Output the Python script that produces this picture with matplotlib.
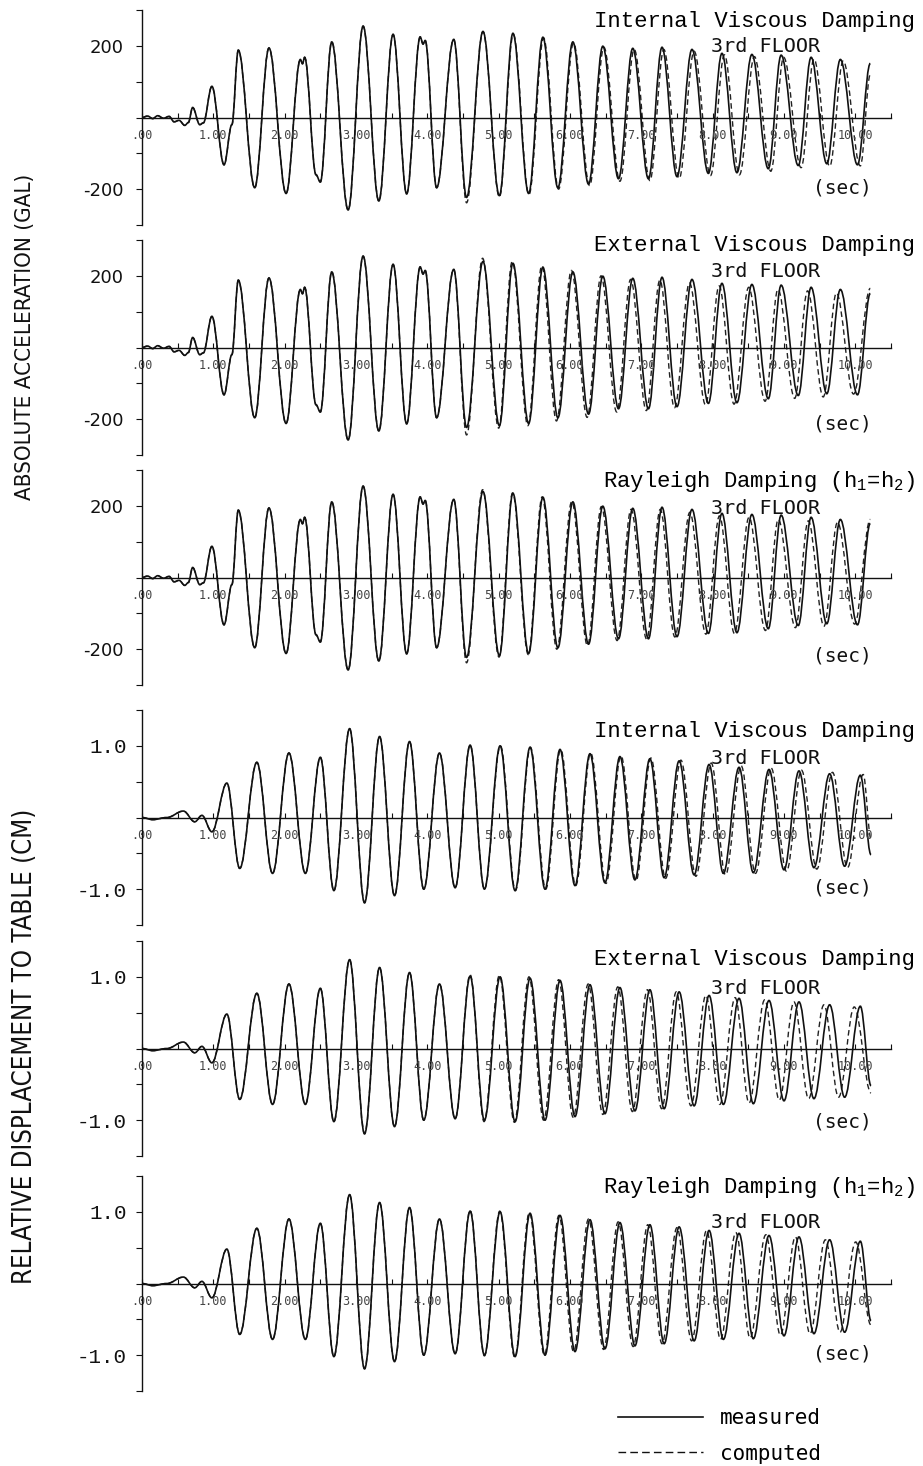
import matplotlib
matplotlib.use("Agg")
import matplotlib.pyplot as plt
from matplotlib.path import Path
from matplotlib.patches import PathPatch
from matplotlib.lines import Line2D
from matplotlib.ticker import MultipleLocator, FixedLocator, FixedFormatter

plt.rcParams['mathtext.fontset'] = 'custom'
plt.rcParams['mathtext.rm'] = 'Liberation Mono'
plt.rcParams['mathtext.it'] = 'Liberation Mono'

# ---------------- data (extrema) ----------------
# measured absolute acceleration (gal), 3rd floor
ACC_MEAS_T = [0.00, 0.08, 0.15, 0.22, 0.30, 0.38, 0.45, 0.52, 0.60, 0.65, 0.71, 0.81, 0.86,
              0.98, 1.15, 1.26, 1.35, 1.58, 1.78, 2.02, 2.22, 2.25, 2.28, 2.44, 2.50,
              2.66, 2.89, 3.10, 3.32, 3.52, 3.71, 3.90, 3.94, 3.97, 4.13, 4.37, 4.55,
              4.78, 5.01, 5.20, 5.42, 5.62, 5.83, 6.04, 6.26, 6.46, 6.68, 6.88, 7.10,
              7.29, 7.50, 7.71, 7.94, 8.13, 8.34, 8.55, 8.78, 8.96, 9.20, 9.38, 9.60,
              9.79, 10.03, 10.21]
ACC_MEAS_V = [0, 4, -3, 5, -2, 3, -12, -8, -22, -14, 28, -20, -15,
              87, -132, -20, 188, -196, 194, -212, 162, 150, 168, -160, -180,
              211, -258, 255, -233, 232, -213, 225, 205, 215, -196, 218, -223,
              240, -218, 235, -212, 224, -196, 211, -186, 199, -171, 193, -171,
              196, -165, 190, -156, 179, -154, 176, -143, 174, -134, 168, -129,
              162, -132, 151]

# computed acceleration (only the part after 4.5 s differs visibly)
ACC_IVD_T = [4.55, 4.78, 5.01, 5.205, 5.425, 5.63, 5.84, 6.05, 6.275, 6.475, 6.70, 6.90, 7.12, 7.315,
             7.53, 7.74, 7.97, 8.165, 8.375, 8.585, 8.815, 8.995, 9.24, 9.42, 9.64, 9.83, 10.07, 10.21]
ACC_IVD_V = [-238, 240, -222, 232, -215, 222, -200, 208, -190, 196, -178, 190, -176, 190,
             -170, 185, -162, 175, -160, 170, -150, 168, -140, 163, -136, 158, -135, 120]
ACC_EVD_T = [4.55, 4.775, 5.00, 5.19, 5.41, 5.605, 5.81, 6.02, 6.24, 6.435, 6.655, 6.85, 7.07, 7.26,
             7.465, 7.675, 7.90, 8.09, 8.30, 8.505, 8.735, 8.915, 9.15, 9.33, 9.55, 9.735, 9.975, 10.21]
ACC_EVD_V = [-244, 249, -225, 240, -218, 228, -205, 215, -195, 200, -180, 190, -176, 188,
             -168, 180, -160, 172, -158, 168, -150, 162, -142, 158, -138, 152, -130, 165]
ACC_RAY_T = [4.55, 4.775, 5.005, 5.195, 5.415, 5.61, 5.815, 6.025, 6.245, 6.44, 6.66, 6.855, 7.075, 7.265,
             7.47, 7.68, 7.905, 8.095, 8.305, 8.51, 8.74, 8.92, 9.16, 9.34, 9.56, 9.75, 9.99, 10.21]
ACC_RAY_V = [-238, 245, -222, 236, -215, 225, -200, 212, -190, 198, -176, 190, -172, 190,
             -166, 182, -158, 172, -156, 168, -148, 162, -140, 158, -136, 154, -130, 162]

# measured relative displacement (cm), 3rd floor
DIS_MEAS_T = [0.00, 0.15, 0.35, 0.58, 0.74, 0.84, 0.98, 1.19, 1.37, 1.61, 1.83, 2.06, 2.29,
              2.50, 2.69, 2.91, 3.12, 3.33, 3.54, 3.75, 3.95, 4.17, 4.39, 4.60, 4.80,
              5.02, 5.23, 5.44, 5.65, 5.86, 6.07, 6.28, 6.49, 6.70, 6.91, 7.12, 7.32,
              7.53, 7.74, 7.95, 8.15, 8.37, 8.57, 8.79, 9.00, 9.21, 9.42, 9.64, 9.85,
              10.07, 10.22]
DIS_MEAS_V = [0.00, -0.03, 0.00, 0.09, -0.06, 0.03, -0.20, 0.48, -0.71, 0.77, -0.78, 0.90, -0.78,
              0.84, -1.02, 1.24, -1.19, 1.13, -1.09, 1.06, -1.00, 0.90, -0.98, 1.01, -1.00,
              1.00, -1.02, 0.98, -1.00, 0.95, -0.95, 0.89, -0.91, 0.85, -0.87, 0.82, -0.84,
              0.79, -0.80, 0.74, -0.78, 0.70, -0.77, 0.67, -0.73, 0.65, -0.70, 0.61, -0.68,
              0.59, -0.52]

DIS_IVD_T = [4.60, 4.80, 5.025, 5.235, 5.445, 5.66, 5.87, 6.08, 6.29, 6.505, 6.715, 6.925, 7.135, 7.34,
             7.555, 7.765, 7.98, 8.18, 8.40, 8.60, 8.82, 9.035, 9.245, 9.46, 9.68, 9.89, 10.11, 10.22]
DIS_IVD_V = [1.01, -1.00, 1.00, -1.02, 0.98, -1.00, 0.95, -0.95, 0.90, -0.92, 0.86, -0.88, 0.83, -0.85,
             0.80, -0.82, 0.76, -0.80, 0.72, -0.78, 0.69, -0.75, 0.66, -0.72, 0.63, -0.70, 0.60, -0.30]
DIS_EVD_T = [4.60, 4.795, 5.01, 5.22, 5.425, 5.63, 5.84, 6.045, 6.255, 6.46, 6.67, 6.875, 7.085, 7.285,
             7.49, 7.695, 7.905, 8.10, 8.315, 8.51, 8.73, 8.935, 9.14, 9.345, 9.56, 9.765, 9.985, 10.22]
DIS_EVD_V = [1.03, -1.02, 1.02, -1.03, 1.00, -1.00, 0.96, -0.96, 0.90, -0.92, 0.86, -0.88, 0.82, -0.84,
             0.79, -0.80, 0.74, -0.78, 0.71, -0.76, 0.68, -0.72, 0.65, -0.70, 0.61, -0.68, 0.58, -0.62]
DIS_RAY_T = [4.60, 4.80, 5.015, 5.225, 5.43, 5.64, 5.845, 6.05, 6.26, 6.47, 6.675, 6.885, 7.09, 7.29,
             7.50, 7.705, 7.915, 8.11, 8.325, 8.525, 8.745, 8.95, 9.16, 9.365, 9.58, 9.785, 10.005, 10.22]
DIS_RAY_V = [1.02, -1.01, 1.01, -1.03, 0.99, -1.00, 0.95, -0.95, 0.90, -0.92, 0.86, -0.88, 0.82, -0.84,
             0.78, -0.80, 0.74, -0.78, 0.71, -0.76, 0.68, -0.72, 0.65, -0.70, 0.61, -0.68, 0.58, -0.58]

TITLES = ["Internal Viscous Damping", "External Viscous Damping",
          "Rayleigh Damping (h$_{1}$=h$_{2}$)"]
FLOOR_LABEL = "3rd FLOOR"
SEC_LABEL = "(sec)"
X_TICK_LABELS = [".00", "1.00", "2.00", "3.00", "4.00", "5.00", "6.00", "7.00", "8.00", "9.00", "10.00"]
ACC_YTICKS = [-300, -200, -100, 0, 100, 200, 300]
ACC_YLABELS = ["", "-200", "", "", "", "200", ""]
DIS_YTICKS = [-1.5, -1.0, -0.5, 0.0, 0.5, 1.0, 1.5]
DIS_YLABELS = ["", "-1.0", "", "", "", "1.0", ""]
YLABEL_ACC = "ABSOLUTE ACCELERATION (GAL)"
YLABEL_DIS = "RELATIVE DISPLACEMENT TO TABLE (CM)"
LEGEND_LABELS = ["measured", "computed"]

# ---------------- layout ----------------
W, H = 923, 1466
fig = plt.figure(figsize=(W / 100, H / 100), dpi=100)


def fx(x):
    return x / W


def fy(y):
    return 1 - y / H


def wave_path(t, v):
    """smooth cosine-like Bezier through successive extrema"""
    verts = [(t[0], v[0])]
    codes = [Path.MOVETO]
    for i in range(1, len(t)):
        d = t[i] - t[i - 1]
        verts += [(t[i - 1] + 0.363 * d, v[i - 1]), (t[i] - 0.363 * d, v[i]), (t[i], v[i])]
        codes += [Path.CURVE4] * 3
    return Path(verts, codes)


def merge(mt, mv, ct, cv):
    t0 = ct[0]
    t = [a for a in mt if a < t0 - 0.05] + list(ct)
    v = [b for a, b in zip(mt, mv) if a < t0 - 0.05] + list(cv)
    return t, v


panels = [
    dict(top=10, kind="acc", title=0, ct=ACC_IVD_T, cv=ACC_IVD_V, tb=27, fb=52, sb=194),
    dict(top=240, kind="acc", title=1, ct=ACC_EVD_T, cv=ACC_EVD_V, tb=251, fb=277, sb=430),
    dict(top=470, kind="acc", title=2, ct=ACC_RAY_T, cv=ACC_RAY_V, tb=487, fb=514, sb=661),
    dict(top=710, kind="dis", title=0, ct=DIS_IVD_T, cv=DIS_IVD_V, tb=737, fb=764, sb=893),
    dict(top=941, kind="dis", title=1, ct=DIS_EVD_T, cv=DIS_EVD_V, tb=965, fb=994, sb=1127),
    dict(top=1176, kind="dis", title=2, ct=DIS_RAY_T, cv=DIS_RAY_V, tb=1193, fb=1228, sb=1359),
]

AX_L, AX_R, AX_H = 142, 891, 215
ink = "#111111"

for p in panels:
    ax = fig.add_axes([fx(AX_L), fy(p["top"] + AX_H), (AX_R - AX_L) / W, AX_H / H])
    if p["kind"] == "acc":
        mt, mv = ACC_MEAS_T, ACC_MEAS_V
        ax.set_ylim(-300, 300)
        ax.yaxis.set_major_locator(FixedLocator(ACC_YTICKS))
        ax.yaxis.set_major_formatter(FixedFormatter(ACC_YLABELS))
        ylab_font = dict(family="DejaVu Sans", size=13)
        pad = 9
    else:
        mt, mv = DIS_MEAS_T, DIS_MEAS_V
        ax.set_ylim(-1.5, 1.5)
        ax.yaxis.set_major_locator(FixedLocator(DIS_YTICKS))
        ax.yaxis.set_major_formatter(FixedFormatter(DIS_YLABELS))
        ylab_font = dict(family="Liberation Mono", size=15)
        pad = 7
    ax.set_xlim(0, 10.5)
    ax.patch.set_alpha(0)
    for s in ("top", "right"):
        ax.spines[s].set_visible(False)
    ax.spines["bottom"].set_position(("data", 0))
    ax.spines["bottom"].set_linewidth(1.0)
    ax.spines["left"].set_linewidth(1.0)
    ax.spines["bottom"].set_color(ink)
    ax.spines["left"].set_color(ink)

    ax.xaxis.set_major_locator(FixedLocator(list(range(11))))
    ax.xaxis.set_major_formatter(FixedFormatter(X_TICK_LABELS))
    ax.xaxis.set_minor_locator(MultipleLocator(0.5))
    ax.tick_params(axis="x", which="both", direction="in", length=3.5, width=0.8,
                   pad=8, labelsize=8.5, labelcolor="#444444", color=ink)
    for lab in ax.get_xticklabels():
        lab.set_family("DejaVu Sans Mono")
    ax.tick_params(axis="y", direction="out", length=4, width=0.8, pad=pad, color=ink)
    for lab in ax.get_yticklabels():
        lab.set_family(ylab_font["family"])
        lab.set_fontsize(ylab_font["size"])
        lab.set_color(ink)

    ct, cv = merge(mt, mv, p["ct"], p["cv"])
    ax.add_patch(PathPatch(wave_path(ct, cv), fill=False, lw=1.0, color="#222222",
                           linestyle=(0, (4, 2.5))))
    ax.add_patch(PathPatch(wave_path(mt, mv), fill=False, lw=1.2, color=ink))

    fig.text(fx(915), fy(p["tb"]), TITLES[p["title"]], ha="right", va="baseline",
             family="Liberation Mono", fontsize=16, color="black")
    fig.text(fx(711), fy(p["fb"]), FLOOR_LABEL, ha="left", va="baseline",
             family="DejaVu Sans Mono", fontsize=14.5, color=ink)
    fig.text(fx(813), fy(p["sb"]), SEC_LABEL, ha="left", va="baseline",
             family="DejaVu Sans Mono", fontsize=14, color=ink)

fig.text(fx(25), fy(337), YLABEL_ACC, rotation=90, ha="center", va="center",
         family="DejaVu Sans", fontstretch="condensed", fontsize=16, color=ink)
fig.text(fx(25), fy(1046), YLABEL_DIS, rotation=90, ha="center", va="center",
         family="DejaVu Sans", fontstretch="condensed", fontsize=18.5, color=ink)

handles = [Line2D([], [], color=ink, lw=1.2),
           Line2D([], [], color=ink, lw=1.0, linestyle=(0, (5.5, 3)))]
fig.legend(handles, LEGEND_LABELS, loc="upper left", bbox_to_anchor=(fx(618), fy(1408)),
           frameon=False, borderaxespad=0, borderpad=0, handlelength=4.1,
           handletextpad=0.8, labelspacing=0.75,
           prop=dict(family="DejaVu Sans Mono", size=15))

fig.savefig("out.png", dpi=100)
